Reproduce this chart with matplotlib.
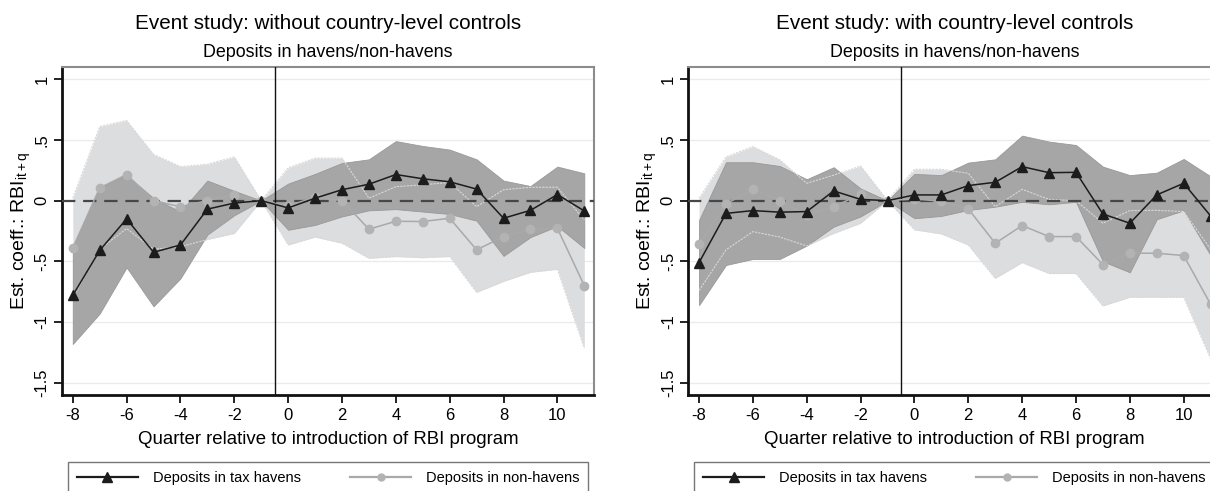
import matplotlib
matplotlib.use("Agg")
import matplotlib.pyplot as plt
from matplotlib.lines import Line2D

plt.rcParams['font.family'] = ['Liberation Sans', 'DejaVu Sans']
plt.rcParams['mathtext.fontset'] = 'custom'
plt.rcParams['mathtext.rm'] = 'Liberation Sans'
plt.rcParams['mathtext.it'] = 'Liberation Sans'

# ---------------- data ----------------
quarters = list(range(-8, 12))

# Panel 1: without country-level controls
tax_nc    = [-0.78, -0.41, -0.15, -0.425, -0.365, -0.07, -0.02, 0.0, -0.06, 0.02,
             0.09, 0.135, 0.215, 0.18, 0.155, 0.095, -0.145, -0.08, 0.05, -0.085]
tax_nc_hi = [-0.38, 0.11, 0.21, 0.02, -0.09, 0.165, 0.08, 0.0, 0.14, 0.22,
             0.31, 0.34, 0.49, 0.45, 0.42, 0.34, 0.165, 0.12, 0.28, 0.225]
tax_nc_lo = [-1.18, -0.93, -0.55, -0.87, -0.64, -0.28, -0.12, 0.0, -0.24, -0.2,
             -0.13, -0.08, -0.07, -0.09, -0.11, -0.165, -0.455, -0.3, -0.21, -0.39]
non_nc    = [-0.39, 0.105, 0.215, 0.0, -0.05, 0.0, 0.05, 0.0, -0.045, 0.03,
             0.0, -0.235, -0.17, -0.172, -0.145, -0.405, -0.296, -0.236, -0.228, -0.70]
non_nc_hi = [0.02, 0.61, 0.66, 0.38, 0.28, 0.30, 0.36, 0.0, 0.27, 0.35,
             0.35, 0.02, 0.115, 0.13, 0.15, -0.05, 0.09, 0.11, 0.11, -0.16]
non_nc_lo = [-0.8, -0.40, -0.23, -0.40, -0.38, -0.32, -0.27, 0.0, -0.365, -0.30,
             -0.35, -0.475, -0.46, -0.47, -0.46, -0.755, -0.665, -0.59, -0.565, -1.215]

# Panel 2: with country-level controls
tax_c    = [-0.51, -0.105, -0.082, -0.095, -0.09, 0.08, 0.01, 0.0, 0.047, 0.047,
            0.124, 0.151, 0.28, 0.23, 0.233, -0.11, -0.186, 0.047, 0.143, -0.126]
tax_c_hi = [-0.16, 0.316, 0.316, 0.285, 0.176, 0.275, 0.10, 0.0, 0.22, 0.21,
            0.313, 0.34, 0.535, 0.486, 0.458, 0.28, 0.21, 0.23, 0.343, 0.2]
tax_c_lo = [-0.86, -0.53, -0.48, -0.48, -0.37, -0.214, -0.13, 0.0, -0.145, -0.126,
            -0.077, -0.05, -0.01, -0.03, -0.01, -0.5, -0.59, -0.153, -0.08, -0.45]
non_c    = [-0.359, -0.027, 0.093, 0.0, -0.118, -0.049, 0.052, 0.0, 0.014, -0.005,
            -0.068, -0.351, -0.205, -0.296, -0.296, -0.526, -0.433, -0.433, -0.452, -0.853]
non_c_hi = [0.02, 0.36, 0.445, 0.335, 0.143, 0.21, 0.285, 0.0, 0.258, 0.258,
            0.225, -0.05, 0.093, 0.01, 0.0, -0.186, -0.082, -0.08, -0.09, -0.4]
non_c_lo = [-0.74, -0.405, -0.255, -0.3, -0.373, -0.27, -0.186, 0.0, -0.24, -0.274,
            -0.365, -0.64, -0.51, -0.6, -0.6, -0.867, -0.795, -0.795, -0.795, -1.3]

titles = ["Event study: without country-level controls",
          "Event study: with country-level controls"]
subtitle = "Deposits in havens/non-havens"
xlabel = "Quarter relative to introduction of RBI program"
ylabel = r"Est. coeff.: RBI$_{\mathregular{it+q}}$"
yticks = [1, 0.5, 0, -0.5, -1, -1.5]
ytick_labels = ["1", ".5", "0", "-.5", "-1", "-1.5"]
xticks = [-8, -6, -4, -2, 0, 2, 4, 6, 8, 10]
legend_labels = ["Deposits in tax havens", "Deposits in non-havens"]

# ---------------- style ----------------
LIGHT = "#dcdddf"
DARK = "#a6a6a6"
TAXC = "#1c1c1c"
NONC = "#a9a9a9"

W, H = 1210, 491
fig = plt.figure(figsize=(W / 100, H / 100), dpi=100)

panels = [
    (62, titles[0], tax_nc, tax_nc_lo, tax_nc_hi, non_nc, non_nc_lo, non_nc_hi),
    (688.3, titles[1], tax_c, tax_c_lo, tax_c_hi, non_c, non_c_lo, non_c_hi),
]

ax_w, ax_top, ax_bot = 532, 67, 395

for (x0, title, tx, tlo, thi, nn, nlo, nhi) in panels:
    ax = fig.add_axes([x0 / W, (H - ax_bot) / H, ax_w / W, (ax_bot - ax_top) / H])
    ax.set_xlim(-8.4, 11.36)
    ax.set_ylim(-1.6, 1.1)

    for yv in [1, 0.5, -0.5, -1, -1.5]:
        ax.axhline(yv, color="#ebebeb", lw=1.0, zorder=0)

    ax.fill_between(quarters, nlo, nhi, color=LIGHT, lw=0, zorder=1)
    ax.fill_between(quarters, tlo, thi, color=DARK, lw=0.6, edgecolor="#999999", zorder=2)
    ax.plot(quarters, nlo, color="#d8d8d8", lw=0.8, ls=(0, (2, 1)), zorder=2.5)
    ax.plot(quarters, nhi, color="#d8d8d8", lw=0.8, ls=(0, (2, 1)), zorder=2.5)

    ax.axhline(0, color="#474747", lw=1.6, ls=(0, (6, 3.5)), zorder=3)
    ax.axvline(-0.5, color="#111111", lw=1.0, zorder=3)

    ax.plot(quarters, nn, color=NONC, lw=1.1, marker="o", ms=6,
            mfc="#b3b3b3", mec="#b3b3b3", zorder=4)
    ax.plot(quarters, tx, color=TAXC, lw=1.1, marker="^", ms=7.5,
            mfc=TAXC, mec=TAXC, zorder=5)

    ax.set_yticks(yticks)
    ax.set_yticklabels(ytick_labels, rotation=90, va="center")
    ax.set_xticks(xticks)
    ax.set_xticklabels([str(v) for v in xticks])
    ax.tick_params(axis="both", direction="out", length=6, width=1.3,
                   labelsize=12, color="#111111", pad=3)
    ax.grid(False)

    for s in ["left", "bottom"]:
        ax.spines[s].set_color("#111111")
        ax.spines[s].set_linewidth(2.0)
    for s in ["top", "right"]:
        ax.spines[s].set_color("#8c8c8c")
        ax.spines[s].set_linewidth(1.5)

    ax.set_xlabel(xlabel, fontsize=13.4, labelpad=6)
    ax.set_ylabel(ylabel, fontsize=14, labelpad=1)

    cx = (x0 + ax_w / 2) / W
    fig.text(cx, (H - 29) / H, title, ha="center", va="baseline", fontsize=14.9)
    fig.text(cx, (H - 57.3) / H, subtitle, ha="center", va="baseline", fontsize=12.9)

    handles = [
        Line2D([], [], color=TAXC, lw=1.6, marker="^", ms=7, mfc=TAXC, mec=TAXC),
        Line2D([], [], color=NONC, lw=1.6, marker="o", ms=5, mfc="#b3b3b3", mec="#b3b3b3"),
    ]
    leg = fig.legend(handles, legend_labels, ncol=2, mode="expand",
                     loc="upper left",
                     bbox_to_anchor=((x0 + 6) / W, (H - 462) / H, 520 / W, 0.0),
                     fontsize=10.5, frameon=True, fancybox=False, handlelength=4.2,
                     handletextpad=1.0, borderpad=0.6, borderaxespad=0,
                     columnspacing=1.0)
    leg.get_frame().set_edgecolor("#555555")
    leg.get_frame().set_linewidth(1.0)

fig.savefig("out.png", dpi=100)
